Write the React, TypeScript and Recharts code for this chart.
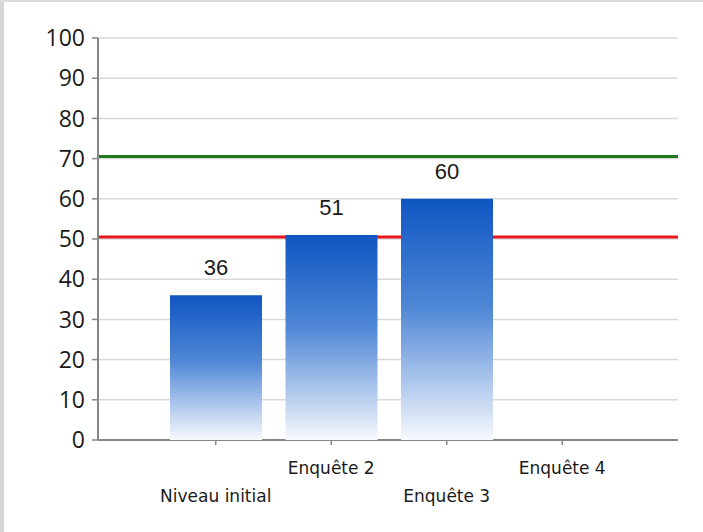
import React from 'react'
import {
  BarChart,
  Bar,
  XAxis,
  YAxis,
  CartesianGrid,
  ReferenceLine,
  LabelList,
} from 'recharts'

const categories = ['Niveau initial', 'Enquête 2', 'Enquête 3', 'Enquête 4']
const scores: (number | null)[] = [36, 51, 60, null]
const yTicks = [0, 10, 20, 30, 40, 50, 60, 70, 80, 90, 100]
const targetHigh = 70.5 // green line
const targetLow = 50.5 // red line

const data = categories.map((name, i) => ({ name, score: scores[i] }))

const W = 703
const H = 532
const margin = { top: 38, right: 25, bottom: 0, left: 0 }

// staggered category labels: even index on the lower row
const StaggeredTick = (props: any) => {
  const { x, y, index, payload } = props
  const dy = index % 2 === 0 ? 55 : 27
  return (
    <text
      x={x}
      y={y + dy}
      textAnchor="middle"
      fill="#1a1a1a"
      fontSize={17}
      fontFamily="'DejaVu Sans', sans-serif"
    >
      {payload.value}
    </text>
  )
}

const layer: React.CSSProperties = { position: 'absolute', left: 0, top: 0 }

export default function App() {
  return (
    <div style={{ position: 'absolute', left: 0, top: 0, width: W, height: H, background: '#fff' }}>
      {/* thin grey frame on the left and top */}
      <div style={{ position: 'absolute', left: 0, top: 0, width: 4, height: H, background: '#d6d6d6' }} />
      <div style={{ position: 'absolute', left: 0, top: 0, width: W, height: 2, background: '#dcdcdc' }} />

      {/* back layer: grid, axes and the two thresholds */}
      <div style={layer}>
        <BarChart width={W} height={H} data={data} margin={margin}>
          <CartesianGrid vertical={false} stroke="#d9d9d9" strokeWidth={1.5} />
          <XAxis
            dataKey="name"
            height={92}
            padding={{ left: 60, right: 58 }}
            axisLine={{ stroke: '#868686', strokeWidth: 2 }}
            tickLine={{ stroke: '#868686', strokeWidth: 1.5 }}
            tickSize={5}
            tickMargin={2}
            tick={<StaggeredTick />}
            interval={0}
          />
          <YAxis
            width={98}
            domain={[0, 100]}
            ticks={yTicks}
            interval={0}
            axisLine={{ stroke: '#868686', strokeWidth: 2 }}
            tickLine={{ stroke: '#868686', strokeWidth: 1.5 }}
            tickSize={6}
            tickMargin={7}
            tick={{ fill: '#1a1a1a', fontSize: 23, fontFamily: "'Open Sans', sans-serif" }}
          />
          <ReferenceLine y={targetHigh} stroke="#1e7a1e" strokeWidth={3} />
          <ReferenceLine y={targetLow} stroke="#e8161c" strokeWidth={3} />
          <Bar dataKey="score" fill="none" barSize={92} isAnimationActive={false} />
        </BarChart>
      </div>

      {/* front layer: the bars, so they cover the threshold lines */}
      <div style={layer}>
        <BarChart width={W} height={H} data={data} margin={margin}>
          <defs>
            <linearGradient id="barFade" x1="0" y1="0" x2="0" y2="1">
              <stop offset="0%" stopColor="#0f56c2" />
              <stop offset="45%" stopColor="#4f87d6" />
              <stop offset="100%" stopColor="#f7f9fd" />
            </linearGradient>
          </defs>
          <XAxis
            dataKey="name"
            height={92}
            padding={{ left: 60, right: 58 }}
            axisLine={false}
            tickLine={false}
            tick={false}
          />
          <YAxis width={98} domain={[0, 100]} ticks={yTicks} axisLine={false} tickLine={false} tick={false} />
          <Bar dataKey="score" fill="url(#barFade)" barSize={92} isAnimationActive={false}>
            <LabelList
              dataKey="score"
              position="top"
              offset={20}
              fill="#1a1a1a"
              fontSize={22}
              fontFamily="'Liberation Sans', Arial, sans-serif"
            />
          </Bar>
        </BarChart>
      </div>
    </div>
  )
}
